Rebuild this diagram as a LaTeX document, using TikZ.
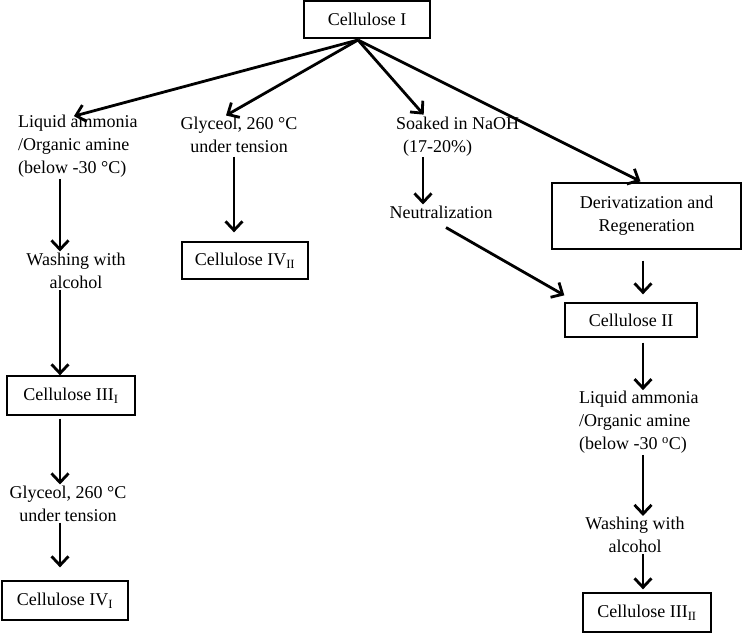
\documentclass[tikz,border=0pt]{standalone}
\usepackage{fontspec}
\setmainfont{Liberation Serif}
\usetikzlibrary{arrows.meta}
\begin{document}
\begin{tikzpicture}[x=1pt,y=-1pt,
  txt/.style={font=\fontsize{18}{23}\selectfont, inner sep=1pt},
  box/.style={txt, draw, line width=1.3pt, minimum width=126pt, minimum height=37pt},
  arr/.style={line width=2.8pt, -{Straight Barb[length=9pt,width=17pt]}}]
\useasboundingbox (0,0) rectangle (742,634);
% nodes
\node[box] (c1) at (367,19.5) {Cellulose I};
\node[txt, align=left, anchor=west] (la) at (17,146.5) {Liquid ammonia\\/Organic amine\\(below -30 °C)};
\node[txt, align=center] (gl) at (239,134.5) {Glyceol, 260 °C\\under tension};
\node[txt, align=left, anchor=west] (so) at (395,136.5) {Soaked in NaOH\\\hspace{7pt}(17-20\%)};
\node[txt] (ne) at (441,212) {Neutralization};
\node[box, align=center, minimum width=189pt, minimum height=66pt] (de) at (646.5,216) {Derivatization and\\Regeneration};
\node[box, minimum width=132pt, minimum height=34pt] (c2) at (631,320) {Cellulose II};
\node[box] (c4ii) at (245,260.5) {Cellulose IV\textsubscript{II}};
\node[txt, align=center] (wa) at (76,270.5) {Washing with\\alcohol};
\node[box, minimum width=128pt, minimum height=39pt] (c3i) at (71,395.5) {Cellulose III\textsubscript{I}};
\node[txt, align=center] (gl2) at (68,503.5) {Glyceol, 260 °C\\under tension};
\node[box, minimum height=39pt] (c4i) at (65,600.5) {Cellulose IV\textsubscript{I}};
\node[txt, align=left, anchor=west] (la2) at (578,422.5) {Liquid ammonia\\/Organic amine\\(below -30 \textsuperscript{o}C)};
\node[txt, align=center] (wa2) at (635,535) {Washing with\\alcohol};
\node[box, minimum width=128pt, minimum height=39pt] (c3ii) at (647,612.5) {Cellulose III\textsubscript{II}};
% column coordinates
\coordinate (fan) at (358,40);
\coordinate (lc) at (60,0);
\coordinate (gc) at (234,0);
\coordinate (sc) at (423,0);
\coordinate (rc) at (643,0);
% connectors
\draw[arr] (fan) -- ([shift={(-4pt,-2pt)}]la.north);
\draw[arr] (fan) -- ([shift={(-13pt,0pt)}]gl.north);
\draw[arr] (fan) -- ([shift={(-34pt,1pt)}]so.north);
\draw[arr] (fan) -- ([shift={(-6pt,1pt)}]de.north);
\draw[arr] (la.south -| lc) -- (wa.north -| lc);
\draw[arr] (wa.south -| lc) -- (c3i.north -| lc);
\draw[arr] ([yshift=-3pt]c3i.south -| lc) -- (gl2.north -| lc);
\draw[arr] (gl2.south -| lc) -- ([yshift=13pt]c4i.north -| lc);
\draw[arr] ([yshift=-3pt]gl.south -| gc) -- ([yshift=9pt]c4ii.north -| gc);
\draw[arr] (so.south -| sc) -- (ne.north -| sc);
\draw[arr] ([shift={(5pt,-8pt)}]ne.south) -- ([shift={(0pt,7pt)}]c2.north west);
\draw[arr] ([yshift=-11pt]de.south -| rc) -- ([yshift=8pt]c2.north -| rc);
\draw[arr] ([yshift=-5pt]c2.south -| rc) -- (la2.north -| rc);
\draw[arr] (la2.south -| rc) -- (wa2.north -| rc);
\draw[arr] (wa2.south -| rc) -- ([yshift=3pt]c3ii.north -| rc);
\end{tikzpicture}
\end{document}
